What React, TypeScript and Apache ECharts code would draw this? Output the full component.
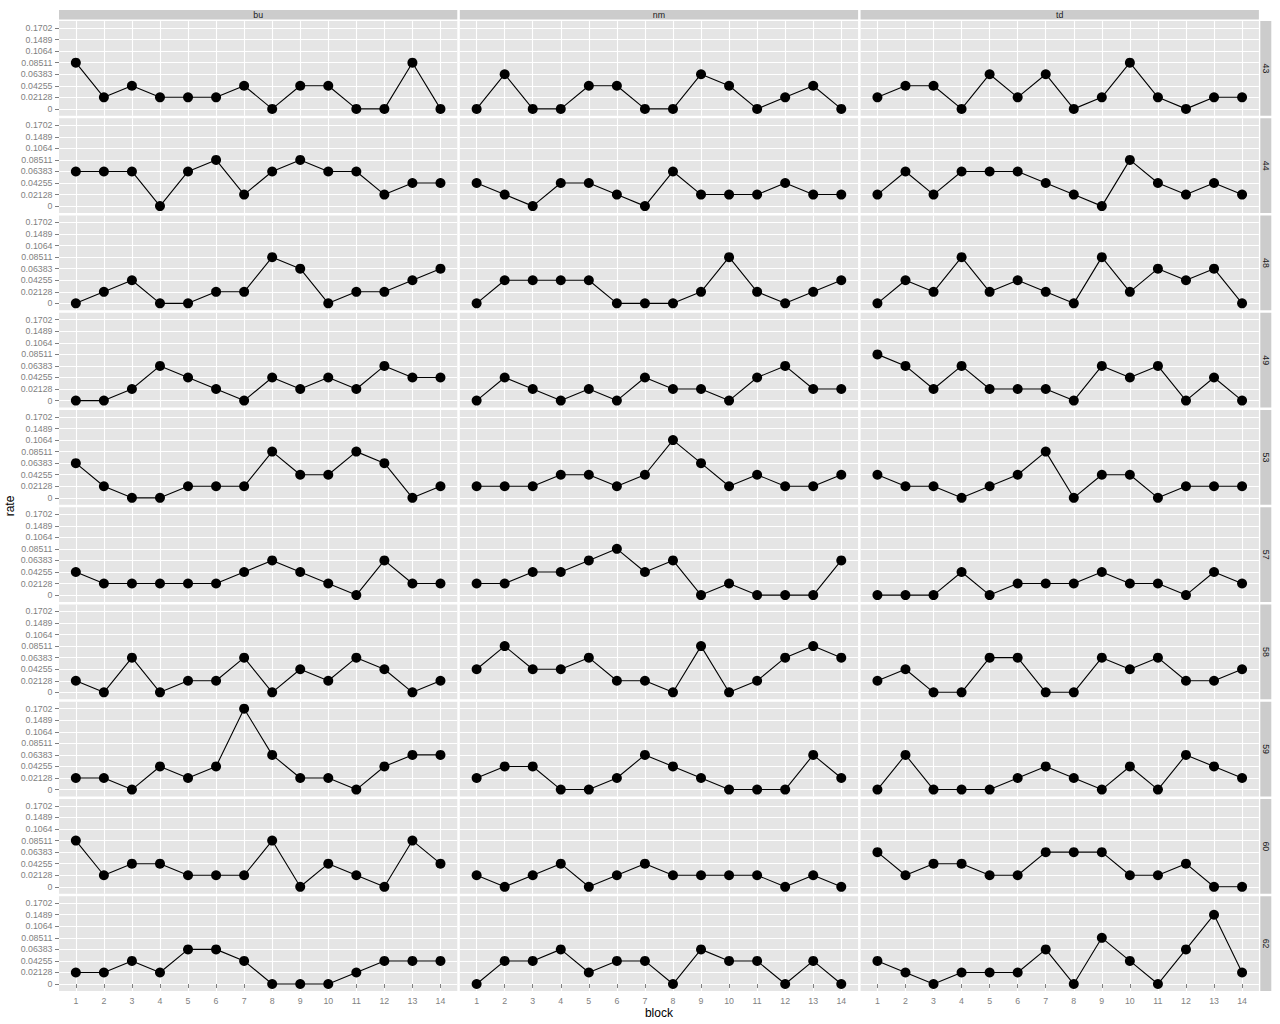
import React, { useEffect, useRef } from "react";
import * as echarts from "echarts";

const blocks = [1, 2, 3, 4, 5, 6, 7, 8, 9, 10, 11, 12, 13, 14];
const rateLevels = ["0", "0.02128", "0.04255", "0.06383", "0.08511", "0.1064", "0.1489", "0.1702"];
const columns = ["bu", "nm", "td"];
const rows = ["43", "44", "48", "49", "53", "57", "58", "59", "60", "62"];

// rate values per subject (row) and condition (column), blocks 1..14
const rate43 = {
  bu: [0.08511, 0.02128, 0.04255, 0.02128, 0.02128, 0.02128, 0.04255, 0, 0.04255, 0.04255, 0, 0, 0.08511, 0],
  nm: [0, 0.06383, 0, 0, 0.04255, 0.04255, 0, 0, 0.06383, 0.04255, 0, 0.02128, 0.04255, 0],
  td: [0.02128, 0.04255, 0.04255, 0, 0.06383, 0.02128, 0.06383, 0, 0.02128, 0.08511, 0.02128, 0, 0.02128, 0.02128],
};
const rate44 = {
  bu: [0.06383, 0.06383, 0.06383, 0, 0.06383, 0.08511, 0.02128, 0.06383, 0.08511, 0.06383, 0.06383, 0.02128, 0.04255, 0.04255],
  nm: [0.04255, 0.02128, 0, 0.04255, 0.04255, 0.02128, 0, 0.06383, 0.02128, 0.02128, 0.02128, 0.04255, 0.02128, 0.02128],
  td: [0.02128, 0.06383, 0.02128, 0.06383, 0.06383, 0.06383, 0.04255, 0.02128, 0, 0.08511, 0.04255, 0.02128, 0.04255, 0.02128],
};
const rate48 = {
  bu: [0, 0.02128, 0.04255, 0, 0, 0.02128, 0.02128, 0.08511, 0.06383, 0, 0.02128, 0.02128, 0.04255, 0.06383],
  nm: [0, 0.04255, 0.04255, 0.04255, 0.04255, 0, 0, 0, 0.02128, 0.08511, 0.02128, 0, 0.02128, 0.04255],
  td: [0, 0.04255, 0.02128, 0.08511, 0.02128, 0.04255, 0.02128, 0, 0.08511, 0.02128, 0.06383, 0.04255, 0.06383, 0],
};
const rate49 = {
  bu: [0, 0, 0.02128, 0.06383, 0.04255, 0.02128, 0, 0.04255, 0.02128, 0.04255, 0.02128, 0.06383, 0.04255, 0.04255],
  nm: [0, 0.04255, 0.02128, 0, 0.02128, 0, 0.04255, 0.02128, 0.02128, 0, 0.04255, 0.06383, 0.02128, 0.02128],
  td: [0.08511, 0.06383, 0.02128, 0.06383, 0.02128, 0.02128, 0.02128, 0, 0.06383, 0.04255, 0.06383, 0, 0.04255, 0],
};
const rate53 = {
  bu: [0.06383, 0.02128, 0, 0, 0.02128, 0.02128, 0.02128, 0.08511, 0.04255, 0.04255, 0.08511, 0.06383, 0, 0.02128],
  nm: [0.02128, 0.02128, 0.02128, 0.04255, 0.04255, 0.02128, 0.04255, 0.1064, 0.06383, 0.02128, 0.04255, 0.02128, 0.02128, 0.04255],
  td: [0.04255, 0.02128, 0.02128, 0, 0.02128, 0.04255, 0.08511, 0, 0.04255, 0.04255, 0, 0.02128, 0.02128, 0.02128],
};
const rate57 = {
  bu: [0.04255, 0.02128, 0.02128, 0.02128, 0.02128, 0.02128, 0.04255, 0.06383, 0.04255, 0.02128, 0, 0.06383, 0.02128, 0.02128],
  nm: [0.02128, 0.02128, 0.04255, 0.04255, 0.06383, 0.08511, 0.04255, 0.06383, 0, 0.02128, 0, 0, 0, 0.06383],
  td: [0, 0, 0, 0.04255, 0, 0.02128, 0.02128, 0.02128, 0.04255, 0.02128, 0.02128, 0, 0.04255, 0.02128],
};
const rate58 = {
  bu: [0.02128, 0, 0.06383, 0, 0.02128, 0.02128, 0.06383, 0, 0.04255, 0.02128, 0.06383, 0.04255, 0, 0.02128],
  nm: [0.04255, 0.08511, 0.04255, 0.04255, 0.06383, 0.02128, 0.02128, 0, 0.08511, 0, 0.02128, 0.06383, 0.08511, 0.06383],
  td: [0.02128, 0.04255, 0, 0, 0.06383, 0.06383, 0, 0, 0.06383, 0.04255, 0.06383, 0.02128, 0.02128, 0.04255],
};
const rate59 = {
  bu: [0.02128, 0.02128, 0, 0.04255, 0.02128, 0.04255, 0.1702, 0.06383, 0.02128, 0.02128, 0, 0.04255, 0.06383, 0.06383],
  nm: [0.02128, 0.04255, 0.04255, 0, 0, 0.02128, 0.06383, 0.04255, 0.02128, 0, 0, 0, 0.06383, 0.02128],
  td: [0, 0.06383, 0, 0, 0, 0.02128, 0.04255, 0.02128, 0, 0.04255, 0, 0.06383, 0.04255, 0.02128],
};
const rate60 = {
  bu: [0.08511, 0.02128, 0.04255, 0.04255, 0.02128, 0.02128, 0.02128, 0.08511, 0, 0.04255, 0.02128, 0, 0.08511, 0.04255],
  nm: [0.02128, 0, 0.02128, 0.04255, 0, 0.02128, 0.04255, 0.02128, 0.02128, 0.02128, 0.02128, 0, 0.02128, 0],
  td: [0.06383, 0.02128, 0.04255, 0.04255, 0.02128, 0.02128, 0.06383, 0.06383, 0.06383, 0.02128, 0.02128, 0.04255, 0, 0],
};
const rate62 = {
  bu: [0.02128, 0.02128, 0.04255, 0.02128, 0.06383, 0.06383, 0.04255, 0, 0, 0, 0.02128, 0.04255, 0.04255, 0.04255],
  nm: [0, 0.04255, 0.04255, 0.06383, 0.02128, 0.04255, 0.04255, 0, 0.06383, 0.04255, 0.04255, 0, 0.04255, 0],
  td: [0.04255, 0.02128, 0, 0.02128, 0.02128, 0.02128, 0.06383, 0, 0.08511, 0.04255, 0, 0.06383, 0.1489, 0.02128],
};
const rateByRow = [rate43, rate44, rate48, rate49, rate53, rate57, rate58, rate59, rate60, rate62];

const FONT = "Liberation Sans, Arial, Helvetica, sans-serif";

function levelIndex(v: number): number {
  let best = 0;
  let bestD = Infinity;
  rateLevels.forEach((s, i) => {
    const d = Math.abs(parseFloat(s) - v);
    if (d < bestD) {
      bestD = d;
      best = i;
    }
  });
  return best;
}

export default function App() {
  const ref = useRef<HTMLDivElement>(null);

  useEffect(() => {
    if (!ref.current) return;
    const chart = echarts.init(ref.current, null, { renderer: "svg" });

    const panelLeft0 = 59;
    const panelW = 398.3;
    const gapX = 2.5;
    const panelTop0 = 21.07;
    const panelH = 94.74;
    const gapY = 2.5;

    const grids: any[] = [];
    const xAxes: any[] = [];
    const yAxes: any[] = [];
    const series: any[] = [];
    const graphics: any[] = [];

    const xVals = blocks.slice();
    const yVals = rateLevels.map((_, i) => i);

    rows.forEach((rowName, r) => {
      const top = panelTop0 + r * (panelH + gapY);
      columns.forEach((colName, c) => {
        const left = panelLeft0 + c * (panelW + gapX);
        const k = grids.length;
        grids.push({
          left,
          top,
          width: panelW,
          height: panelH,
          show: true,
          backgroundColor: "#E5E5E5",
          borderWidth: 0,
          containLabel: false,
        });
        const isBottom = r === rows.length - 1;
        const isLeft = c === 0;
        xAxes.push({
          type: "value",
          gridIndex: k,
          min: 0.4,
          max: 14.6,
          axisLine: { show: false },
          axisTick: {
            show: isBottom,
            customValues: xVals,
            length: 4,
            lineStyle: { color: "#7F7F7F", width: 1 },
          },
          axisLabel: {
            show: isBottom,
            customValues: xVals,
            margin: 6,
            color: "#7F7F7F",
            fontSize: 8.8,
            fontFamily: FONT,
            formatter: (v: number) => String(Math.round(v)),
          },
          splitLine: { show: true, lineStyle: { color: "#FFFFFF", width: 1.1 } },
        });
        yAxes.push({
          type: "value",
          gridIndex: k,
          min: -0.6,
          max: 7.6,
          axisLine: { show: false },
          axisTick: {
            show: isLeft,
            customValues: yVals,
            length: 4,
            lineStyle: { color: "#7F7F7F", width: 1 },
          },
          axisLabel: {
            show: isLeft,
            customValues: yVals,
            margin: 6.5,
            color: "#7F7F7F",
            fontSize: 8.8,
            fontFamily: FONT,
            formatter: (v: number) => rateLevels[Math.round(v)] ?? "",
          },
          splitLine: { show: true, lineStyle: { color: "#FFFFFF", width: 1.1 } },
        });
        const vals: number[] = (rateByRow[r] as any)[colName];
        series.push({
          type: "line",
          xAxisIndex: k,
          yAxisIndex: k,
          data: blocks.map((b, i) => [b, levelIndex(vals[i])]),
          symbol: "circle",
          symbolSize: 10,
          showSymbol: true,
          itemStyle: { color: "#000000" },
          lineStyle: { color: "#000000", width: 1.1 },
          silent: true,
          z: 3,
        });

        if (r === 0) {
          graphics.push({
            type: "rect",
            shape: { x: left, y: 10, width: panelW, height: 9.6 },
            style: { fill: "#CCCCCC" },
            silent: true,
          });
          graphics.push({
            type: "text",
            x: left + panelW / 2,
            y: 15,
            style: {
              text: colName,
              fill: "#1A1A1A",
              font: `8.8px ${FONT}`,
              align: "center",
              verticalAlign: "middle",
            },
            silent: true,
          });
        }
      });
      const stripX = panelLeft0 + 3 * panelW + 2 * gapX + 1.4;
      graphics.push({
        type: "rect",
        shape: { x: stripX, y: top, width: 11, height: panelH },
        style: { fill: "#CCCCCC" },
        silent: true,
      });
      graphics.push({
        type: "text",
        x: stripX + 5.5,
        y: top + panelH / 2,
        rotation: -Math.PI / 2,
        style: {
          text: rowName,
          fill: "#1A1A1A",
          font: `8.8px ${FONT}`,
          align: "center",
          verticalAlign: "middle",
        },
        silent: true,
      });
    });

    const totalRight = panelLeft0 + 3 * panelW + 2 * gapX;
    const totalBottom = panelTop0 + rows.length * panelH + (rows.length - 1) * gapY;

    graphics.push({
      type: "text",
      x: (panelLeft0 + totalRight) / 2,
      y: 1013,
      style: {
        text: "block",
        fill: "#000000",
        font: `12px ${FONT}`,
        align: "center",
        verticalAlign: "middle",
      },
      silent: true,
    });
    graphics.push({
      type: "text",
      x: 10,
      y: (panelTop0 + totalBottom) / 2,
      rotation: Math.PI / 2,
      style: {
        text: "rate",
        fill: "#000000",
        font: `12px ${FONT}`,
        align: "center",
        verticalAlign: "middle",
      },
      silent: true,
    });

    chart.setOption({
      animation: false,
      backgroundColor: "#FFFFFF",
      grid: grids,
      xAxis: xAxes,
      yAxis: yAxes,
      series,
      graphic: graphics,
    });

    return () => {
      chart.dispose();
    };
  }, []);

  return (
    <div
      ref={ref}
      style={{ position: "absolute", left: 0, top: 0, width: 1280, height: 1024 }}
    />
  );
}
